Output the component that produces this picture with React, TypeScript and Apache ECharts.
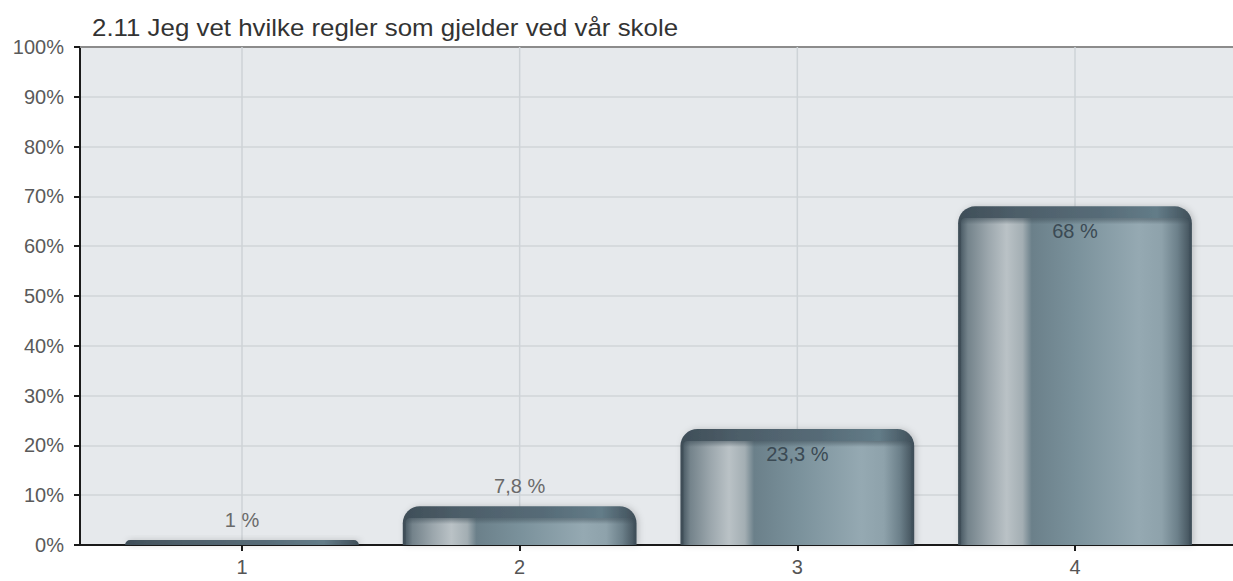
import React, { useEffect, useRef } from "react";
import * as echarts from "echarts";

const TITLE = "2.11 Jeg vet hvilke regler som gjelder ved vår skole";
const categories = ["1", "2", "3", "4"];
const values = [1, 7.8, 23.3, 68];
const yMin = 0;
const yMax = 100;
const yStep = 10;

const fmtLabel = (v: number) => String(v).replace(".", ",") + " %";

export default function App() {
  const ref = useRef<HTMLDivElement>(null);
  useEffect(() => {
    if (!ref.current) return;
    const chart = echarts.init(ref.current, null, { renderer: "svg" });
    const LG = echarts.graphic.LinearGradient;
    const capGrad = () =>
      new LG(0, 0, 1, 0, [
        { offset: 0, color: "#3f4e58" },
        { offset: 0.25, color: "#4d5e69" },
        { offset: 0.6, color: "#566b77" },
        { offset: 0.85, color: "#637c88" },
        { offset: 1, color: "#3f4e58" },
      ]);
    const bodyGrad = () =>
      new LG(0, 0, 1, 0, [
        { offset: 0, color: "#4e5e68" },
        { offset: 0.03, color: "#74838b" },
        { offset: 0.12, color: "#9ca7ad" },
        { offset: 0.2, color: "#bac2c6" },
        { offset: 0.27, color: "#a3aeb3" },
        { offset: 0.31, color: "#6b808a" },
        { offset: 0.5, color: "#7a919b" },
        { offset: 0.78, color: "#95a9b2" },
        { offset: 0.88, color: "#8ea2ab" },
        { offset: 0.95, color: "#6c808a" },
        { offset: 1, color: "#485862" },
      ]);
    const BAR_W = 0.842;
    const xMin = 0.4166;
    const xMax = 4.569;
    const font = "Liberation Sans";
    chart.setOption({
      animation: false,
      backgroundColor: "#ffffff",
      graphic: [
        {
          type: "text",
          left: 92,
          top: 17,
          scaleX: 1.125,
          style: {
            text: TITLE,
            fontSize: 23,
            fontFamily: font,
            fill: "#333333",
          },
        },
      ],
      grid: {
        left: 80,
        right: 0,
        top: 47,
        bottom: 36,
        show: true,
        backgroundColor: "#e6e9ec",
        borderWidth: 0,
      },
      xAxis: [
        {
          type: "value",
          min: xMin,
          max: xMax,
          position: "bottom",
          axisLine: { show: true, lineStyle: { color: "#1a1a1a", width: 2 } },
          axisTick: {
            show: true,
            customValues: categories.map(Number),
            length: 6,
            lineStyle: { color: "#1a1a1a", width: 2 },
          },
          axisLabel: {
            show: true,
            customValues: categories.map(Number),
            formatter: (v: number) => String(v),
            fontSize: 20,
            fontFamily: font,
            color: "#555555",
            margin: 12,
          },
          splitLine: { show: false },
        },
        {
          type: "value",
          min: xMin,
          max: xMax,
          position: "top",
          axisLine: { show: true, lineStyle: { color: "#8c8c8c", width: 2 } },
          axisTick: { show: false },
          axisLabel: { show: false },
          splitLine: { show: false },
        },
      ],
      yAxis: {
        type: "value",
        min: yMin,
        max: yMax,
        interval: yStep,
        axisLine: { show: true, lineStyle: { color: "#1a1a1a", width: 2 } },
        axisTick: { show: true, length: 6, lineStyle: { color: "#1a1a1a", width: 2 } },
        axisLabel: {
          formatter: "{value}%",
          fontSize: 20,
          fontFamily: font,
          color: "#5a5a5a",
          margin: 16,
        },
        splitLine: { show: true, lineStyle: { color: "#d0d4d8", width: 1.5 } },
      },
      series: [
        {
          type: "custom",
          xAxisIndex: 0,
          data: values.map((v, i) => [Number(categories[i]), v]),
          encode: { x: 0, y: 1 },
          renderItem: (params: any, api: any) => {
            const cx = api.value(0);
            const v = api.value(1);
            const top = api.coord([cx, v]);
            const base = api.coord([cx, 0]);
            const full = api.coord([cx, yMax]);
            const w = api.size([BAR_W, 0])[0];
            const xc = top[0];
            const x0 = xc - w / 2;
            const yTop = top[1];
            const yBase = base[1];
            const h = yBase - yTop;
            const capH = Math.min(12, h);
            const children: any[] = [
              {
                type: "line",
                shape: { x1: xc, y1: full[1], x2: xc, y2: yBase },
                style: { stroke: "#ced3d7", lineWidth: 1.5 },
              },
              {
                type: "rect",
                shape: { x: x0, y: yTop, width: w, height: h, r: [17, 17, 0, 0] },
                style: {
                  fill: capGrad(),
                  shadowBlur: 6,
                  shadowColor: "rgba(0,0,0,0.18)",
                  shadowOffsetX: 2,
                },
              },
            ];
            if (h > capH + 1) {
              children.push({
                type: "rect",
                shape: { x: x0 + 3, y: yTop + capH, width: w - 6, height: h - capH, r: [4, 4, 0, 0] },
                style: { fill: bodyGrad() },
              });
              children.push({
                type: "rect",
                shape: { x: x0 + 3, y: yTop + capH, width: w - 6, height: Math.min(6, h - capH) },
                style: {
                  fill: new LG(0, 0, 0, 1, [
                    { offset: 0, color: "rgba(60,76,86,0.55)" },
                    { offset: 1, color: "rgba(60,76,86,0)" },
                  ]),
                },
              });
            }
            const inside = v > 15;
            children.push({
              type: "text",
              style: {
                text: fmtLabel(v),
                x: xc,
                y: inside ? yTop + 25 : yTop - 20,
                align: "center",
                verticalAlign: "middle",
                fontSize: 20,
                fontFamily: font,
                fill: inside ? "#3b4a54" : "#6a6a6a",
              },
            });
            return { type: "group", children };
          },
        },
      ],
    });
    return () => chart.dispose();
  }, []);
  return (
    <div
      ref={ref}
      style={{ position: "absolute", left: 0, top: 0, width: 1233, height: 581 }}
    />
  );
}
